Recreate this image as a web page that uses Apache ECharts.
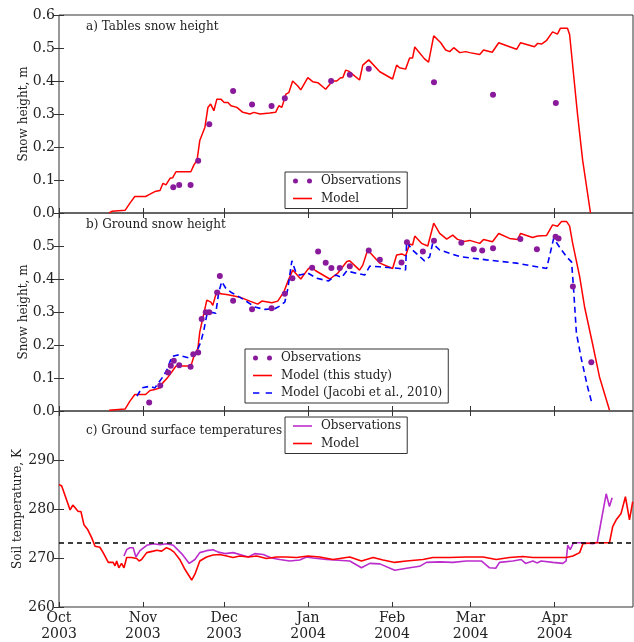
<!DOCTYPE html>
<html>
<head>
<meta charset="utf-8">
<script src="https://cdn.jsdelivr.net/npm/echarts@6/dist/echarts.min.js"></script>
<style>
html,body{margin:0;padding:0;background:#fff}
#chart{width:634px;height:642px}
</style>
</head>
<body>
<div id="chart"></div>
<script>
// x values are days since 1 Oct 2003
var monthDays = [0, 31, 61, 92, 123, 152, 183];
var monthLabels = ['Oct\n2003', 'Nov\n2003', 'Dec\n2003', 'Jan\n2004', 'Feb\n2004', 'Mar\n2004', 'Apr\n2004'];
var lastDay = 212;
var freezingPoint = 273.15;

// a) Tables snow height (m)
var tablesObs = [[42.2,0.078],[44.4,0.085],[48.6,0.085],[51.4,0.158],[55.5,0.269],[64.3,0.37],[71.3,0.329],[78.5,0.324],[83.4,0.348],[100.5,0.40],[107.4,0.419],[114.4,0.437],[138.5,0.396],[160.3,0.358],[183.5,0.333]];
var tablesModel = [[18.5,0],[19.5,0.005],[24.4,0.008],[26.2,0.03],[28,0.05],[32,0.05],[33.6,0.057],[35.4,0.065],[37.3,0.068],[38.4,0.09],[39.5,0.085],[41,0.105],[42,0.107],[43.2,0.125],[48.7,0.125],[49.8,0.145],[51,0.16],[52,0.22],[53.9,0.26],[55,0.32],[56,0.33],[57.2,0.31],[58.3,0.345],[59.8,0.345],[61,0.335],[62.4,0.335],[63.5,0.325],[65.7,0.32],[67.9,0.305],[68.6,0.308],[70.5,0.30],[72,0.305],[74.2,0.30],[77.9,0.303],[80,0.305],[81.2,0.325],[82.3,0.32],[83.8,0.36],[84.9,0.365],[86.3,0.40],[88.2,0.385],[89.3,0.373],[91.9,0.41],[93.7,0.398],[95.6,0.395],[98.5,0.375],[101,0.40],[102.6,0.40],[104,0.41],[104.8,0.41],[105.9,0.433],[107,0.43],[111,0.403],[112.2,0.448],[114.4,0.464],[118.5,0.428],[123.2,0.406],[124.7,0.448],[125.8,0.44],[128,0.436],[129.5,0.47],[130.6,0.47],[131.4,0.503],[135,0.467],[136.5,0.457],[138.4,0.537],[141,0.516],[142.8,0.494],[144.3,0.489],[145.8,0.501],[148,0.486],[150.2,0.489],[151.7,0.486],[155.4,0.48],[156.8,0.494],[160,0.487],[162.4,0.516],[166.4,0.504],[169,0.496],[170.5,0.516],[175.6,0.504],[176.8,0.514],[178.2,0.512],[180,0.522],[182.3,0.549],[184.1,0.542],[185.2,0.56],[186.7,0.56],[187.8,0.56],[188.6,0.54],[191.5,0.30],[193.4,0.16],[196.3,0]];

// b) Ground snow height (m)
var groundObs = [[33.3,0.026],[37.4,0.077],[40.3,0.117],[41.3,0.137],[42.4,0.152],[44.4,0.139],[48.6,0.134],[49.6,0.172],[51.4,0.177],[52.7,0.279],[54.2,0.299],[55.5,0.299],[58.4,0.359],[59.4,0.409],[64.3,0.334],[71.3,0.308],[78.5,0.311],[83.4,0.355],[86.2,0.402],[93.5,0.434],[95.7,0.483],[98.5,0.449],[100.6,0.433],[103.7,0.433],[107.4,0.439],[114.4,0.486],[118.5,0.458],[126.5,0.45],[128.5,0.511],[134.4,0.483],[138.5,0.516],[148.6,0.51],[153.2,0.49],[156.3,0.486],[160.3,0.493],[170.4,0.521],[176.5,0.49],[183.4,0.528],[184.5,0.523],[189.8,0.377],[196.6,0.148]];
var groundModel = [[18.5,0.002],[24.4,0.006],[26.2,0.03],[28,0.05],[32,0.05],[33.6,0.062],[35.4,0.065],[37.3,0.07],[38.4,0.086],[39.9,0.099],[41.7,0.119],[43.2,0.136],[48.7,0.136],[49.8,0.165],[51.3,0.19],[52,0.24],[53.5,0.296],[54.6,0.336],[56.1,0.33],[56.8,0.32],[58.3,0.364],[59.8,0.355],[62.4,0.352],[66.8,0.345],[70.5,0.333],[73.4,0.324],[74.9,0.333],[78.6,0.328],[80.8,0.333],[83,0.36],[84.5,0.392],[86.3,0.427],[89.3,0.40],[91.9,0.429],[93,0.437],[94.8,0.425],[100,0.40],[103,0.418],[106.3,0.453],[107.4,0.455],[111,0.427],[112.2,0.442],[114,0.488],[118.5,0.448],[123.2,0.432],[124.7,0.473],[126.6,0.476],[128,0.47],[129.5,0.506],[130.6,0.503],[131.4,0.53],[133.9,0.508],[136.2,0.5],[138.4,0.569],[140.6,0.538],[143.2,0.521],[145.4,0.533],[147.2,0.52],[149.8,0.514],[151.7,0.517],[155.4,0.508],[156.8,0.52],[160.1,0.513],[162.4,0.538],[166.4,0.523],[169.4,0.52],[170.5,0.538],[174.9,0.526],[176.8,0.53],[180.1,0.532],[182.3,0.564],[184.1,0.56],[185.6,0.574],[187.5,0.574],[188.6,0.56],[189.7,0.509],[192.3,0.407],[194.1,0.316],[197,0.206],[199.6,0.104],[203.3,0.003]];
var groundJacobi = [[28.8,0.045],[30.6,0.07],[33.6,0.075],[35.4,0.07],[38.4,0.104],[39.9,0.125],[41.7,0.165],[43.9,0.17],[48.3,0.16],[50.9,0.18],[52.4,0.21],[53.5,0.245],[54.6,0.291],[55.7,0.30],[57.9,0.296],[59,0.36],[60.1,0.392],[61.6,0.372],[63.5,0.36],[68.6,0.336],[72.3,0.315],[76,0.308],[79.7,0.31],[81.5,0.318],[83.4,0.33],[84.5,0.37],[86,0.455],[87.5,0.42],[88.9,0.412],[91.9,0.418],[95.2,0.402],[99.6,0.394],[102.2,0.412],[104.4,0.405],[106.3,0.425],[107.4,0.422],[112.9,0.412],[114.8,0.439],[118.5,0.437],[125.8,0.432],[128,0.427],[128.4,0.513],[130.3,0.49],[135,0.455],[136.9,0.467],[138,0.508],[140.6,0.488],[148,0.468],[157.9,0.458],[169,0.448],[180.1,0.432],[182.7,0.523],[185.6,0.488],[187.5,0.467],[189.3,0.452],[190,0.377],[191.1,0.236],[193,0.155],[195.2,0.074],[197,0.018]];

// c) Ground surface temperatures (K)
var tempObs = [[24,270.4],[25,271.7],[26.2,272.1],[27.4,272.1],[28.4,270.2],[29.9,271.5],[32.4,272.6],[34.8,272.9],[37.3,272.7],[39.7,272.9],[42.2,272.6],[45.3,270.9],[48.1,268.9],[50.2,269.7],[52,271.1],[54.5,271.5],[56.9,271.7],[58.8,271.2],[61.3,270.9],[64.3,271.1],[66.8,270.7],[69.9,270.2],[72.3,270.9],[75.4,270.7],[78.5,270],[81.5,269.7],[85.2,269.4],[88.9,269.6],[91.4,270.2],[93.8,270],[98.8,269.7],[107.4,269.4],[111.7,268],[114.8,268.9],[118.5,268.8],[124,267.5],[129.5,268],[133.2,268.3],[135.7,269.1],[140.6,269.2],[145.5,269.1],[150.4,269.4],[156,269.4],[159,268],[161.3,267.9],[162.7,269.1],[167.6,269.4],[170.7,269.7],[172.3,268.9],[175,269.4],[176.5,269],[178.1,269.4],[182.4,269.1],[186.1,268.9],[187.3,269.4],[187.9,272.6],[188.8,271.7],[190,273.1],[193.5,273.1],[197.2,272.9],[198.8,273.2],[200.2,277.4],[202.1,283.1],[203.3,280.5],[204.3,282.3]];
var tempModel = [[0,285],[1,284.7],[2.2,282.8],[4.1,279.8],[5.1,280.8],[7.1,279.5],[8.1,279.5],[9.2,276.8],[10.6,275.8],[12.1,274.1],[13.3,272.4],[15.1,272.2],[16.3,271.1],[18.2,269.1],[20,269.1],[20.7,268.4],[21.3,269.4],[22.1,268],[23.1,268.9],[24,268],[25,270.1],[26.8,270.1],[28.7,269.9],[29.6,269.4],[30.5,269.7],[32.4,271.1],[33,271.2],[34.8,271.4],[36.1,271.6],[37.9,271.4],[39.7,272.1],[41,271.8],[42.5,271.2],[44.6,269.7],[46.5,267.7],[49,265.5],[50.2,266.7],[52,269.4],[54.5,270.2],[56.9,270.6],[59.4,270.7],[61.9,270.4],[64.3,270.1],[66.8,270.4],[69.9,270.2],[73,270.4],[76.6,269.9],[80.3,270.2],[84,270.2],[87.7,270.1],[92,270.4],[92.6,270.7],[96.3,270.2],[101.2,269.7],[107.4,270.2],[111.7,269.4],[116,270.1],[119.7,269.6],[124,269.1],[128.3,269.4],[134.4,269.7],[138.1,270.1],[144.3,270.1],[150.4,270.2],[156.6,270.2],[161.5,269.7],[166.4,270.1],[171.3,270.3],[175,270.1],[181.2,270.1],[187.3,270.1],[189.8,270.4],[192.3,271.1],[193.5,272.9],[197.2,273.1],[203.3,273.1],[204.5,276.4],[205.8,277.8],[207.6,279.1],[209.2,282.5],[210.7,277.8],[211.9,281.5]];

var legendNames = {
  aObs: 'Observations', aModel: 'Model',
  bObs: 'Observations', bModel: 'Model (this study)', bJacobi: 'Model (Jacobi et al., 2010)',
  cObs: 'Observations', cModel: 'Model'
};

var serif = 'DejaVu Serif';
var ink = '#222';
var frame = '#333';
var red = '#ff0000';
var purple = '#8a1a9c';
var magenta = '#bb2ccc';
var blue = '#0000ff';
// legend handles: two dots, a solid line, a dashed line
var twoDots = 'path://M0,2.5a2.5,2.5 0 1,0 5,0a2.5,2.5 0 1,0 -5,0zM14,2.5a2.5,2.5 0 1,0 5,0a2.5,2.5 0 1,0 -5,0z';
var solidLine = 'path://M0,0h19v1.6h-19z';
var dashedLine = 'path://M0,0h6v1.6h-6zM12,0h6v1.6h-6z';
var legendIcons = {aObs: twoDots, bObs: twoDots, bJacobi: dashedLine};

function xAx(gi, pos, showLabels) {
  return {
    type: 'value', gridIndex: gi, position: pos, min: 0, max: lastDay,
    axisLine: {show: false}, splitLine: {show: false},
    axisTick: {show: true, inside: true, length: 5, customValues: monthDays, lineStyle: {color: frame}},
    axisLabel: {
      show: showLabels, customValues: monthDays, margin: 3,
      fontFamily: serif, fontSize: 14, color: ink, lineHeight: 16,
      formatter: function (v) { var i = monthDays.indexOf(v); return i < 0 ? '' : monthLabels[i]; }
    }
  };
}

function yAx(gi, pos, min, max, step, showMax, digits, name, gap) {
  return {
    type: 'value', gridIndex: gi, position: pos, min: min, max: max, interval: step,
    name: pos === 'left' ? name : '', nameLocation: 'middle', nameGap: gap, nameMoveOverlap: false,
    nameTextStyle: {fontFamily: serif, fontSize: 12, color: ink},
    axisLine: {show: false}, splitLine: {show: false},
    axisTick: {show: true, inside: true, length: 5, lineStyle: {color: frame}},
    axisLabel: {
      show: pos === 'left', showMaxLabel: showMax, showMinLabel: true, margin: 4,
      fontFamily: serif, fontSize: 14, color: ink,
      formatter: function (v) { return v.toFixed(digits); }
    }
  };
}

function legendBox(names, left, top) {
  return {
    orient: 'vertical', left: left, top: top,
    data: names.map(function (n) { return {name: n, icon: legendIcons[n] || solidLine}; }),
    formatter: function (n) { return legendNames[n]; },
    itemWidth: 19, itemHeight: 5, itemGap: 3.5,
    padding: [2, 6, 3, 8],
    borderColor: frame, borderWidth: 1, borderRadius: 0, backgroundColor: '#fff',
    selectedMode: false,
    textStyle: {fontFamily: serif, fontSize: 12, color: ink, lineHeight: 14, padding: [0, 0, 0, 4]}
  };
}

function panelTitle(text, top) {
  return {
    text: text, left: 86, top: top, padding: 0,
    textStyle: {fontFamily: serif, fontSize: 12, fontWeight: 'normal', color: ink}
  };
}

var option = {
  animation: false,
  backgroundColor: '#fff',
  title: [
    panelTitle('a) Tables snow height', 21),
    panelTitle('b) Ground snow height', 219),
    panelTitle('c) Ground surface temperatures', 425)
  ],
  grid: [
    {left: 59, top: 15, width: 574, height: 198, show: true, borderColor: frame, borderWidth: 1},
    {left: 59, top: 213, width: 574, height: 198, show: true, borderColor: frame, borderWidth: 1},
    {left: 59, top: 411, width: 574, height: 199, show: true, borderColor: frame, borderWidth: 1}
  ],
  xAxis: [
    xAx(0, 'bottom', false), xAx(0, 'top', false),
    xAx(1, 'bottom', false), xAx(1, 'top', false),
    xAx(2, 'bottom', true), xAx(2, 'top', false)
  ],
  yAxis: [
    yAx(0, 'left', 0, 0.6, 0.1, true, 1, 'Snow height, m', 29), yAx(0, 'right', 0, 0.6, 0.1, true, 1, '', 0),
    yAx(1, 'left', 0, 0.6, 0.1, false, 1, 'Snow height, m', 29), yAx(1, 'right', 0, 0.6, 0.1, false, 1, '', 0),
    yAx(2, 'left', 260, 300, 10, false, 0, 'Soil temperature, K', 35), yAx(2, 'right', 260, 300, 10, false, 0, '', 0)
  ],
  legend: [
    legendBox(['aObs', 'aModel'], 285, 172),
    legendBox(['bObs', 'bModel', 'bJacobi'], 245, 349),
    legendBox(['cObs', 'cModel'], 285, 417)
  ],
  series: [
    {name: 'aObs', type: 'scatter', xAxisIndex: 0, yAxisIndex: 0, data: tablesObs, symbolSize: 6, itemStyle: {color: purple, opacity: 1}, z: 3},
    {name: 'aModel', type: 'line', xAxisIndex: 0, yAxisIndex: 0, data: tablesModel, symbol: 'none', lineStyle: {color: red, width: 1.5}, itemStyle: {color: red}, z: 2},
    {name: 'bObs', type: 'scatter', xAxisIndex: 2, yAxisIndex: 2, data: groundObs, symbolSize: 6, itemStyle: {color: purple, opacity: 1}, z: 3},
    {name: 'bModel', type: 'line', xAxisIndex: 2, yAxisIndex: 2, data: groundModel, symbol: 'none', lineStyle: {color: red, width: 1.5}, itemStyle: {color: red}, z: 2},
    {name: 'bJacobi', type: 'line', xAxisIndex: 2, yAxisIndex: 2, data: groundJacobi, symbol: 'none', lineStyle: {color: blue, width: 1.6, type: [6, 4]}, itemStyle: {color: blue}, z: 2},
    {name: 'cObs', type: 'line', xAxisIndex: 4, yAxisIndex: 4, data: tempObs, symbol: 'none', lineStyle: {color: magenta, width: 1.6}, itemStyle: {color: magenta}, z: 2},
    {name: 'cModel', type: 'line', xAxisIndex: 4, yAxisIndex: 4, data: tempModel, symbol: 'none', lineStyle: {color: red, width: 1.6}, itemStyle: {color: red}, z: 2,
      markLine: {silent: true, symbol: 'none', label: {show: false}, lineStyle: {color: '#000', width: 1.5, type: [5, 4]}, data: [{yAxis: freezingPoint}]}}
  ]
};

var chart = echarts.init(document.getElementById('chart'), null, {renderer: 'canvas'});
chart.setOption(option);
</script>
</body>
</html>
